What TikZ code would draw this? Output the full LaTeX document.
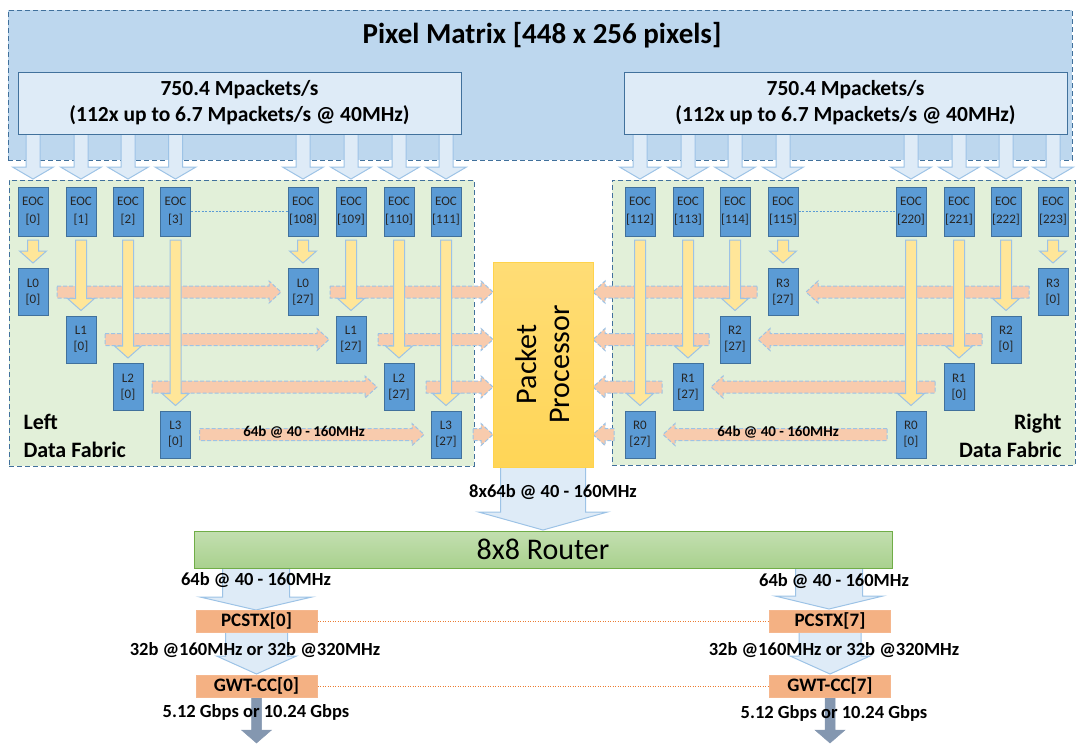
\documentclass[tikz,border=0pt]{standalone}
\usepackage{fontspec}
\setmainfont{Carlito}
\usetikzlibrary{positioning, calc}

\definecolor{pmblue}{HTML}{BDD7EE}
\definecolor{paleblue}{HTML}{DEEBF7}
\definecolor{edgeblue}{HTML}{41719C}
\definecolor{rimblue}{HTML}{9DC3E6}
\definecolor{eocblue}{HTML}{5B9BD5}
\definecolor{fabgreen}{HTML}{E2F0D9}
\definecolor{flowyellow}{HTML}{FFE699}
\definecolor{floworange}{HTML}{F8CBAD}
\definecolor{ppyellow}{HTML}{FFD966}
\definecolor{pporange}{HTML}{FFC000}
\definecolor{routergreen}{HTML}{A9D18E}
\definecolor{routeredge}{HTML}{70AD47}
\definecolor{pcsorange}{HTML}{F4B183}
\definecolor{pcsedge}{HTML}{ED7D31}
\definecolor{outgray}{HTML}{8497B0}

% block arrows: style, x, y top, y tip, shaft half, head half, head length
\newcommand{\varrow}[7]{%
  \draw[#1] ({#2-#5},{#3}) -- ({#2+#5},{#3}) -- ({#2+#5},{#4-(#7)}) -- ({#2+#6},{#4-(#7)})
    -- ({#2},{#4}) -- ({#2-#6},{#4-(#7)}) -- ({#2-#5},{#4-(#7)}) -- cycle;}
% style, y, x tail, x tip, shaft half, head half, head length (signed)
\newcommand{\harrow}[7]{%
  \draw[#1] ({#3},{#2-#5}) -- ({#4-(#7)},{#2-#5}) -- ({#4-(#7)},{#2-#6}) -- ({#4},{#2})
    -- ({#4-(#7)},{#2+#6}) -- ({#4-(#7)},{#2+#5}) -- ({#3},{#2+#5}) -- cycle;}

\tikzset{
  area/.style={draw=edgeblue, line width=1pt, dash pattern=on 5pt off 3pt, inner sep=0pt},
  ratebox/.style={draw=edgeblue, fill=paleblue, line width=1pt, minimum width=443pt, minimum height=62pt,
    align=center, font=\fontsize{21.5}{26}\selectfont\bfseries},
  eoc/.style={draw=edgeblue, fill=eocblue, line width=1pt, minimum width=30pt, minimum height=49pt,
    inner sep=0pt, align=center, text=black!85, font=\fontsize{13}{18}\selectfont},
  lnk/.style={eoc, minimum height=47pt, font=\fontsize{13}{16}\selectfont},
  inarrow/.style={draw=rimblue, fill=paleblue, line width=1pt},
  yarrow/.style={draw=rimblue, fill=flowyellow, line width=1pt},
  oarrow/.style={draw=rimblue, fill=floworange, line width=1pt, dash pattern=on 4pt off 2pt},
  gwtarrow/.style={draw=outgray, fill=outgray, line width=0.5pt},
  pcs/.style={draw=pcsedge!55, fill=pcsorange, line width=1pt, minimum width=121pt, minimum height=22pt,
    inner sep=0pt, font=\fontsize{19}{19}\selectfont\bfseries},
  rate/.style={font=\fontsize{18.5}{20}\selectfont\bfseries},
  bus/.style={font=\fontsize{15}{15}\selectfont\bfseries}
}

\begin{document}
\begin{tikzpicture}[x=1pt, y=-1pt]
\useasboundingbox (0,0) rectangle (1076,753);

\node[area, fill=pmblue, minimum width=1064pt, minimum height=150pt] (pm) at (540,85) {};
\node[font=\fontsize{29}{35}\selectfont\bfseries] (pmtitle) at (542,35) {Pixel Matrix [448 x 256 pixels]};
\node[area, fill=fabgreen, minimum width=465pt, minimum height=286pt] (fabL) at (241.5,323) {};
\node[area, fill=fabgreen, minimum width=463pt, minimum height=285pt] (fabR) at (843.5,322.5) {};

\foreach \x in {33, 81, 128, 175.5, 303, 351, 399, 446, 640, 688, 735, 783, 911, 959, 1006, 1053}
  \varrow{inarrow}{\x}{130}{179}{7}{20.5}{12};
\node[ratebox] (rateL) at (239.5,103) {750.4 Mpackets/s\\(112x up to 6.7 Mpackets/s @ 40MHz)};
\node[ratebox] (rateR) at (845.5,103) {750.4 Mpackets/s\\(112x up to 6.7 Mpackets/s @ 40MHz)};

\foreach \x/\n in {33/0, 81/1, 128/2, 175.5/3, 303/108, 351/109, 399/110, 446/111,
                   640/112, 688/113, 735/114, 783/115, 911/220, 959/221, 1006/222, 1053/223}
  \node[eoc] (eoc\n) at (\x,211.5) {EOC\\{[\n]}};
\draw[eocblue, line width=0.6pt, dash pattern=on 2pt off 1.5pt] (eoc3.east) -- (eoc108.west);
\draw[eocblue, line width=0.6pt, dash pattern=on 2pt off 1.5pt] (eoc115.east) -- (eoc220.west);

\foreach \k/\xa/\xb/\y in {0/33/303/292, 1/81/351/339.5, 2/128/399/387, 3/175.5/446/434.5} {
  \harrow{oarrow}{\y}{\xa+24}{\xb-22}{6}{11}{12};
  \harrow{oarrow}{\y}{\xb+27}{493}{6}{11}{12};
}
\foreach \k/\xa/\xb/\y in {3/783/1053/292, 2/735/1006/339.5, 1/688/959/387, 0/640/911/434.5} {
  \harrow{oarrow}{\y}{\xa-26}{593}{6}{11}{-12};
  \harrow{oarrow}{\y}{\xb-24}{\xa+23}{6}{11}{-12};
}
\foreach \x/\t in {33/263, 81/310.5, 128/358, 175.5/405.5, 303/263, 351/310.5, 399/358, 446/405.5,
                   783/263, 735/310.5, 688/358, 640/405.5, 1053/263, 1006/310.5, 959/358, 911/405.5}
  \varrow{yarrow}{\x}{240}{\t}{5.5}{13.5}{12};

\foreach \k/\xa/\xb/\y in {0/33/303/292, 1/81/351/339.5, 2/128/399/387, 3/175.5/446/434.5} {
  \node[lnk] (la\k) at (\xa,\y) {L\k\\{[0]}};
  \node[lnk] (lb\k) at (\xb,\y) {L\k\\{[27]}};
}
\foreach \k/\xa/\xb/\y in {3/783/1053/292, 2/735/1006/339.5, 1/688/959/387, 0/640/911/434.5} {
  \node[lnk] (ra\k) at (\xa,\y) {R\k\\{[27]}};
  \node[lnk] (rb\k) at (\xb,\y) {R\k\\{[0]}};
}
\node[bus] (busL) at (304,432.5) {64b @ 40 - 160MHz};
\node[bus] (busR) at (778,432.5) {64b @ 40 - 160MHz};
\node[anchor=west, align=left, font=\fontsize{22}{28}\selectfont\bfseries] (fabLtext) at (20,436) {Left\\Data Fabric};
\node[anchor=east, align=right, font=\fontsize{22}{28}\selectfont\bfseries] (fabRtext) at (1065,436) {Right\\Data Fabric};

\varrow{inarrow}{543}{465}{530}{42.5}{64.5}{18};
\node[draw=pporange!70, line width=1pt, top color=ppyellow!90!white, bottom color=ppyellow!85!pporange,
  minimum width=100pt, minimum height=205pt] (pp) at (543,364.5) {};
\node[rotate=90, align=center, font=\fontsize{30}{33}\selectfont] (pptext) at (pp.center) {Packet\\Processor};
\node[rate] (ppbus) at (553,492) {8x64b @ 40 - 160MHz};

\varrow{inarrow}{256}{566}{610}{33.5}{56}{13};
\varrow{inarrow}{829}{566}{609}{33.5}{54}{13};
\node[draw=routeredge, line width=1pt, top color=routergreen!70!white, bottom color=routergreen,
  minimum width=698pt, minimum height=37pt, font=\fontsize{30}{30}\selectfont] (router) at (543,549.5) {8x8 Router};
\varrow{inarrow}{256.5}{632}{674}{31}{40}{18};
\varrow{inarrow}{830}{632}{674}{31}{40}{18};
\varrow{gwtarrow}{256.5}{697}{743}{5}{15}{13};
\varrow{gwtarrow}{830}{697}{743}{5}{15}{13};

\node[pcs] (pcs0) at (256.5,621) {PCSTX[0]};
\node[pcs] (pcs7) at (830,621) {PCSTX[7]};
\node[pcs] (gwt0) at (256.5,686) {GWT-CC[0]};
\node[pcs] (gwt7) at (830,686) {GWT-CC[7]};
\draw[pcsedge, line width=0.9pt, dash pattern=on 1.2pt off 1.3pt] (pcs0.east) -- (pcs7.west);
\draw[pcsedge, line width=0.9pt, dash pattern=on 1.2pt off 1.3pt] (gwt0.east) -- (gwt7.west);

\node[rate] (outL) at (256,580) {64b @ 40 - 160MHz};
\node[rate] (outR) at (834,581) {64b @ 40 - 160MHz};
\node[rate] (serL) at (255,650) {32b @160MHz or 32b @320MHz};
\node[rate] (serR) at (834,650) {32b @160MHz or 32b @320MHz};
\node[rate] (gbpsL) at (256,712) {5.12 Gbps or 10.24 Gbps};
\node[rate] (gbpsR) at (834,713) {5.12 Gbps or 10.24 Gbps};
\end{tikzpicture}
\end{document}
